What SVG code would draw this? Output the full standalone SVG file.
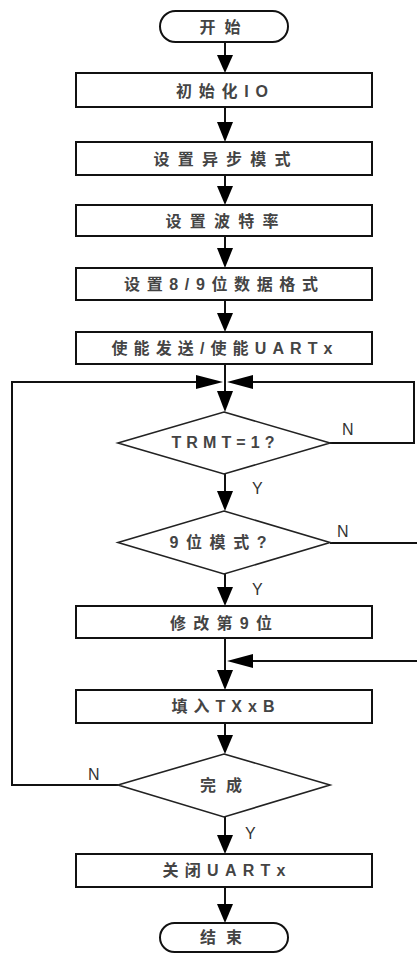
<svg xmlns="http://www.w3.org/2000/svg" width="417" height="953" viewBox="0 0 417 953">
<style>
.shape{fill:#fff;stroke:#111;stroke-width:2}
.dia{fill:#fff;stroke:#222;stroke-width:1.6}
.ln{fill:none;stroke:#111;stroke-width:2}
.ah{fill:#000}
.t{font-family:"Liberation Sans","Noto Sans CJK SC",sans-serif;font-size:16px;font-weight:bold;fill:#444;text-anchor:middle}
.lb{font-family:"Liberation Sans",sans-serif;font-size:16px;fill:#333}
</style>
<rect width="417" height="953" fill="#fff"/>
<g id="connectors">
<path class="ln" d="M225 42V60M225 107V125M225 175V188M225 236V250M225 300V315M225 364V395M225 473V493M225 574V589M225 638V673M225 723V737M225 817V837M225 887V906"/>
<path class="ln" d="M118 785H12V382H200"/>
<path class="ln" d="M330 443H414V382H250"/>
<path class="ln" d="M330 543H417"/>
<path class="ln" d="M417 661H250"/>
<path class="ah" d="M217 55H233L225 73Z"/>
<path class="ah" d="M217 122H233L225 142Z"/>
<path class="ah" d="M217 186H233L225 205Z"/>
<path class="ah" d="M217 248H233L225 268Z"/>
<path class="ah" d="M217 313H233L225 332Z"/>
<path class="ah" d="M217 391H233L225 412Z"/>
<path class="ah" d="M217 491H233L225 511Z"/>
<path class="ah" d="M217 587H233L225 606Z"/>
<path class="ah" d="M217 670H233L225 690Z"/>
<path class="ah" d="M217 735H233L225 754Z"/>
<path class="ah" d="M217 835H233L225 854Z"/>
<path class="ah" d="M217 904H233L225 923Z"/>
<path class="ah" d="M196 375V389L223 382Z"/>
<path class="ah" d="M253 375V389L227 382Z"/>
<path class="ah" d="M253 654V668L227 661Z"/>
</g>
<g id="start"><rect class="shape" x="160" y="11" width="128" height="31" rx="15.5"/><text class="t" x="220" y="33" textLength="41">开始</text></g>
<g id="init-io"><rect class="shape" x="76" y="73" width="296" height="34"/><text class="t" x="222" y="97" textLength="92">初始化IO</text></g>
<g id="async-mode"><rect class="shape" x="76" y="142" width="296" height="33"/><text class="t" x="222" y="165" textLength="137">设置异步模式</text></g>
<g id="baud"><rect class="shape" x="76" y="205" width="296" height="31"/><text class="t" x="222" y="227" textLength="113">设置波特率</text></g>
<g id="data-format"><rect class="shape" x="76" y="268" width="296" height="32"/><text class="t" x="221" y="290" textLength="194">设置8/9位数据格式</text></g>
<g id="enable"><rect class="shape" x="76" y="332" width="296" height="32"/><text class="t" x="222" y="354" textLength="221">使能发送/使能UARTx</text></g>
<g id="trmt"><path class="dia" d="M224 412L330 443L224 474L118 443Z"/><text class="t" x="223" y="448" textLength="103">TRMT=1?</text></g>
<g id="nine-bit"><path class="dia" d="M224 511L330 542.5L224 574L118 542.5Z"/><text class="t" x="218" y="548" textLength="97">9位模式?</text></g>
<g id="modify9"><rect class="shape" x="76" y="606" width="296" height="32"/><text class="t" x="221" y="629" textLength="102">修改第9位</text></g>
<g id="fill"><rect class="shape" x="76" y="690" width="296" height="33"/><text class="t" x="223" y="712" textLength="103">填入TXxB</text></g>
<g id="done"><path class="dia" d="M224 754L330 785L224 817L118 785Z"/><text class="t" x="221" y="791" textLength="42">完成</text></g>
<g id="close"><rect class="shape" x="76" y="854" width="296" height="33"/><text class="t" x="224" y="876" textLength="123">关闭UARTx</text></g>
<g id="end"><rect class="shape" x="160" y="923" width="128" height="29" rx="14.5"/><text class="t" x="221" y="943" textLength="42">结束</text></g>
<g id="labels">
<text class="lb" x="342" y="435">N</text>
<text class="lb" x="252" y="494">Y</text>
<text class="lb" x="337" y="537">N</text>
<text class="lb" x="252" y="595">Y</text>
<text class="lb" x="88" y="780">N</text>
<text class="lb" x="245" y="839">Y</text>
</g>
</svg>
